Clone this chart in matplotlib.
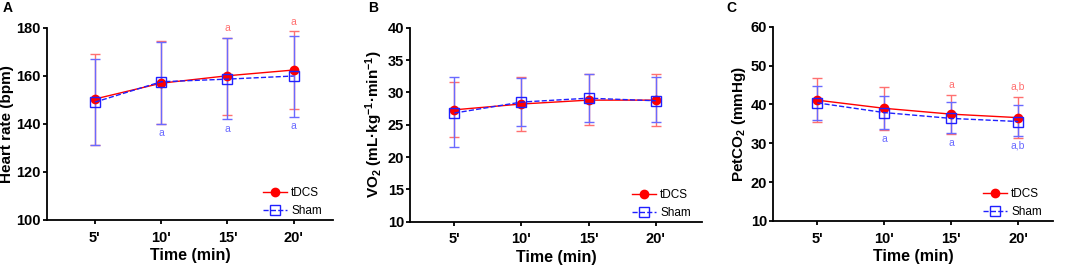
import matplotlib
matplotlib.use("Agg")
import matplotlib.pyplot as plt
import numpy as np

plt.rcParams['font.family'] = ['Liberation Sans', 'DejaVu Sans']
plt.rcParams['mathtext.fontset'] = 'custom'
plt.rcParams['mathtext.rm'] = 'Liberation Sans:bold'
plt.rcParams['mathtext.bf'] = 'Liberation Sans:bold'
plt.rcParams['mathtext.it'] = 'Liberation Sans:bold'
plt.rcParams['mathtext.default'] = 'bf'

# ---------------- data ----------------
time_labels = ["5'", "10'", "15'", "20'"]

# Panel A: Heart rate
hr_tdcs = [150.4, 157.0, 160.1, 162.5]
hr_tdcs_up = [169.0, 174.4, 175.8, 178.6]
hr_tdcs_lo = [131.3, 140.2, 143.8, 146.3]
hr_sham = [149.1, 157.6, 158.7, 160.0]
hr_sham_up = [167.1, 174.2, 175.8, 176.8]
hr_sham_lo = [131.3, 140.2, 141.9, 143.1]
hr_tdcs_sig = ["", "", "a", "a"]
hr_sham_sig = ["", "a", "a", "a"]

# Panel B: VO2
vo_tdcs = [27.3, 28.2, 28.8, 28.8]
vo_tdcs_up = [31.65, 32.4, 32.8, 32.85]
vo_tdcs_lo = [23.05, 24.0, 24.9, 24.85]
vo_sham = [26.8, 28.5, 29.1, 28.7]
vo_sham_up = [32.3, 32.2, 32.8, 32.3]
vo_sham_lo = [21.5, 24.85, 25.4, 25.4]
vo_tdcs_sig = ["", "", "", ""]
vo_sham_sig = ["", "", "", ""]

# Panel C: PetCO2
pc_tdcs = [41.1, 39.0, 37.5, 36.6]
pc_tdcs_up = [46.7, 44.4, 42.3, 42.0]
pc_tdcs_lo = [35.4, 33.4, 32.4, 31.3]
pc_sham = [40.4, 37.9, 36.4, 35.6]
pc_sham_up = [44.7, 42.2, 40.7, 39.8]
pc_sham_lo = [36.0, 33.7, 32.6, 31.9]
pc_tdcs_sig = ["", "", "a", "a,b"]
pc_sham_sig = ["", "a", "a", "a,b"]

RED = '#ff0000'
BLUE = '#2020ff'
RED_EB = '#ff7070'
BLUE_EB = '#6a6aff'

fig = plt.figure(figsize=(10.65, 2.69), dpi=100)

panels = [
    dict(rect=[47/1065, 1-220/269, 286/1065, 192/269], xlim=(0.28, 4.59),
         ylim=(100, 180), yticks=[100, 120, 140, 160, 180],
         ylabel='Heart rate (bpm)', letter='A', lx=3,
         t=hr_tdcs, tu=hr_tdcs_up, tl=hr_tdcs_lo, s=hr_sham, su=hr_sham_up, sl=hr_sham_lo,
         tsig=hr_tdcs_sig, ssig=hr_sham_sig, off=2.0),
    dict(rect=[410/1065, 1-221.7/269, 292/1065, 194/269], xlim=(0.34, 4.69),
         ylim=(10, 40), yticks=[10, 15, 20, 25, 30, 35, 40],
         ylabel='VO$_2$ (mL·kg$^{-1}$·min$^{-1}$)', letter='B', lx=368,
         t=vo_tdcs, tu=vo_tdcs_up, tl=vo_tdcs_lo, s=vo_sham, su=vo_sham_up, sl=vo_sham_lo,
         tsig=vo_tdcs_sig, ssig=vo_sham_sig, off=0.8),
    dict(rect=[773/1065, 1-221/269, 280/1065, 194.3/269], xlim=(0.34, 4.52),
         ylim=(10, 60), yticks=[10, 20, 30, 40, 50, 60],
         ylabel='PetCO$_2$ (mmHg)', letter='C', lx=726,
         t=pc_tdcs, tu=pc_tdcs_up, tl=pc_tdcs_lo, s=pc_sham, su=pc_sham_up, sl=pc_sham_lo,
         tsig=pc_tdcs_sig, ssig=pc_sham_sig, off=1.3),
]

x = np.arange(1, len(time_labels) + 1)

for p in panels:
    ax = fig.add_axes(p['rect'])
    t = np.array(p['t']); s = np.array(p['s'])
    terr = [t - np.array(p['tl']), np.array(p['tu']) - t]
    serr = [s - np.array(p['sl']), np.array(p['su']) - s]
    ax.errorbar(x, t, yerr=terr, fmt='none', ecolor=RED_EB, elinewidth=1.0,
                capsize=3.5, capthick=1.0, zorder=2)
    ax.errorbar(x, s, yerr=serr, fmt='none', ecolor=BLUE_EB, elinewidth=1.0,
                capsize=3.5, capthick=1.0, zorder=2)
    ax.plot(x, t, '-', color=RED, lw=1.0, marker='o', ms=6, mfc=RED, mec=RED,
            label='tDCS', zorder=3)
    ax.plot(x, s, '--', color=BLUE, lw=1.0, marker='s', ms=6.5, mfc='none', mec=BLUE,
            mew=1.0, label='Sham', zorder=4)
    for xi, lab, up in zip(x, p['tsig'], p['tu']):
        if lab:
            ax.text(xi, up + p['off'], lab, color=RED_EB, fontsize=7.5,
                    ha='center', va='bottom')
    for xi, lab, lo in zip(x, p['ssig'], p['sl']):
        if lab:
            ax.text(xi, lo - p['off'], lab, color=BLUE_EB, fontsize=7.5,
                    ha='center', va='top')
    ax.set_xlim(*p['xlim'])
    ax.set_ylim(*p['ylim'])
    ax.set_yticks(p['yticks'])
    ax.set_xticks(x)
    ax.set_xticklabels(time_labels)
    for sp in ['top', 'right']:
        ax.spines[sp].set_visible(False)
    for sp in ['left', 'bottom']:
        ax.spines[sp].set_linewidth(1.3)
    ax.tick_params(axis='both', width=1.3, length=3.2, labelsize=10.5, pad=1.2)
    ax.tick_params(axis='x', pad=4.5)
    for lbl in ax.get_xticklabels() + ax.get_yticklabels():
        lbl.set_fontweight('bold')
    ax.set_xlabel('Time (min)', fontsize=11.5, fontweight='bold', labelpad=2.5)
    ax.set_ylabel(p['ylabel'], fontsize=11, fontweight='bold', labelpad=1.5)
    axw = p['rect'][2] * 1065
    axh = p['rect'][3] * 269
    ax.legend(loc='lower right', frameon=False, fontsize=8.5, handlelength=2.0,
              handletextpad=0.4, labelspacing=0.5, borderaxespad=0.0,
              borderpad=0.0, bbox_to_anchor=(1 - 11/axw, 3/axh))
    fig.text(p['lx']/1065, 0.97, p['letter'], fontsize=10, fontweight='bold',
             ha='left', va='center')

fig.savefig('out.png', dpi=100)
